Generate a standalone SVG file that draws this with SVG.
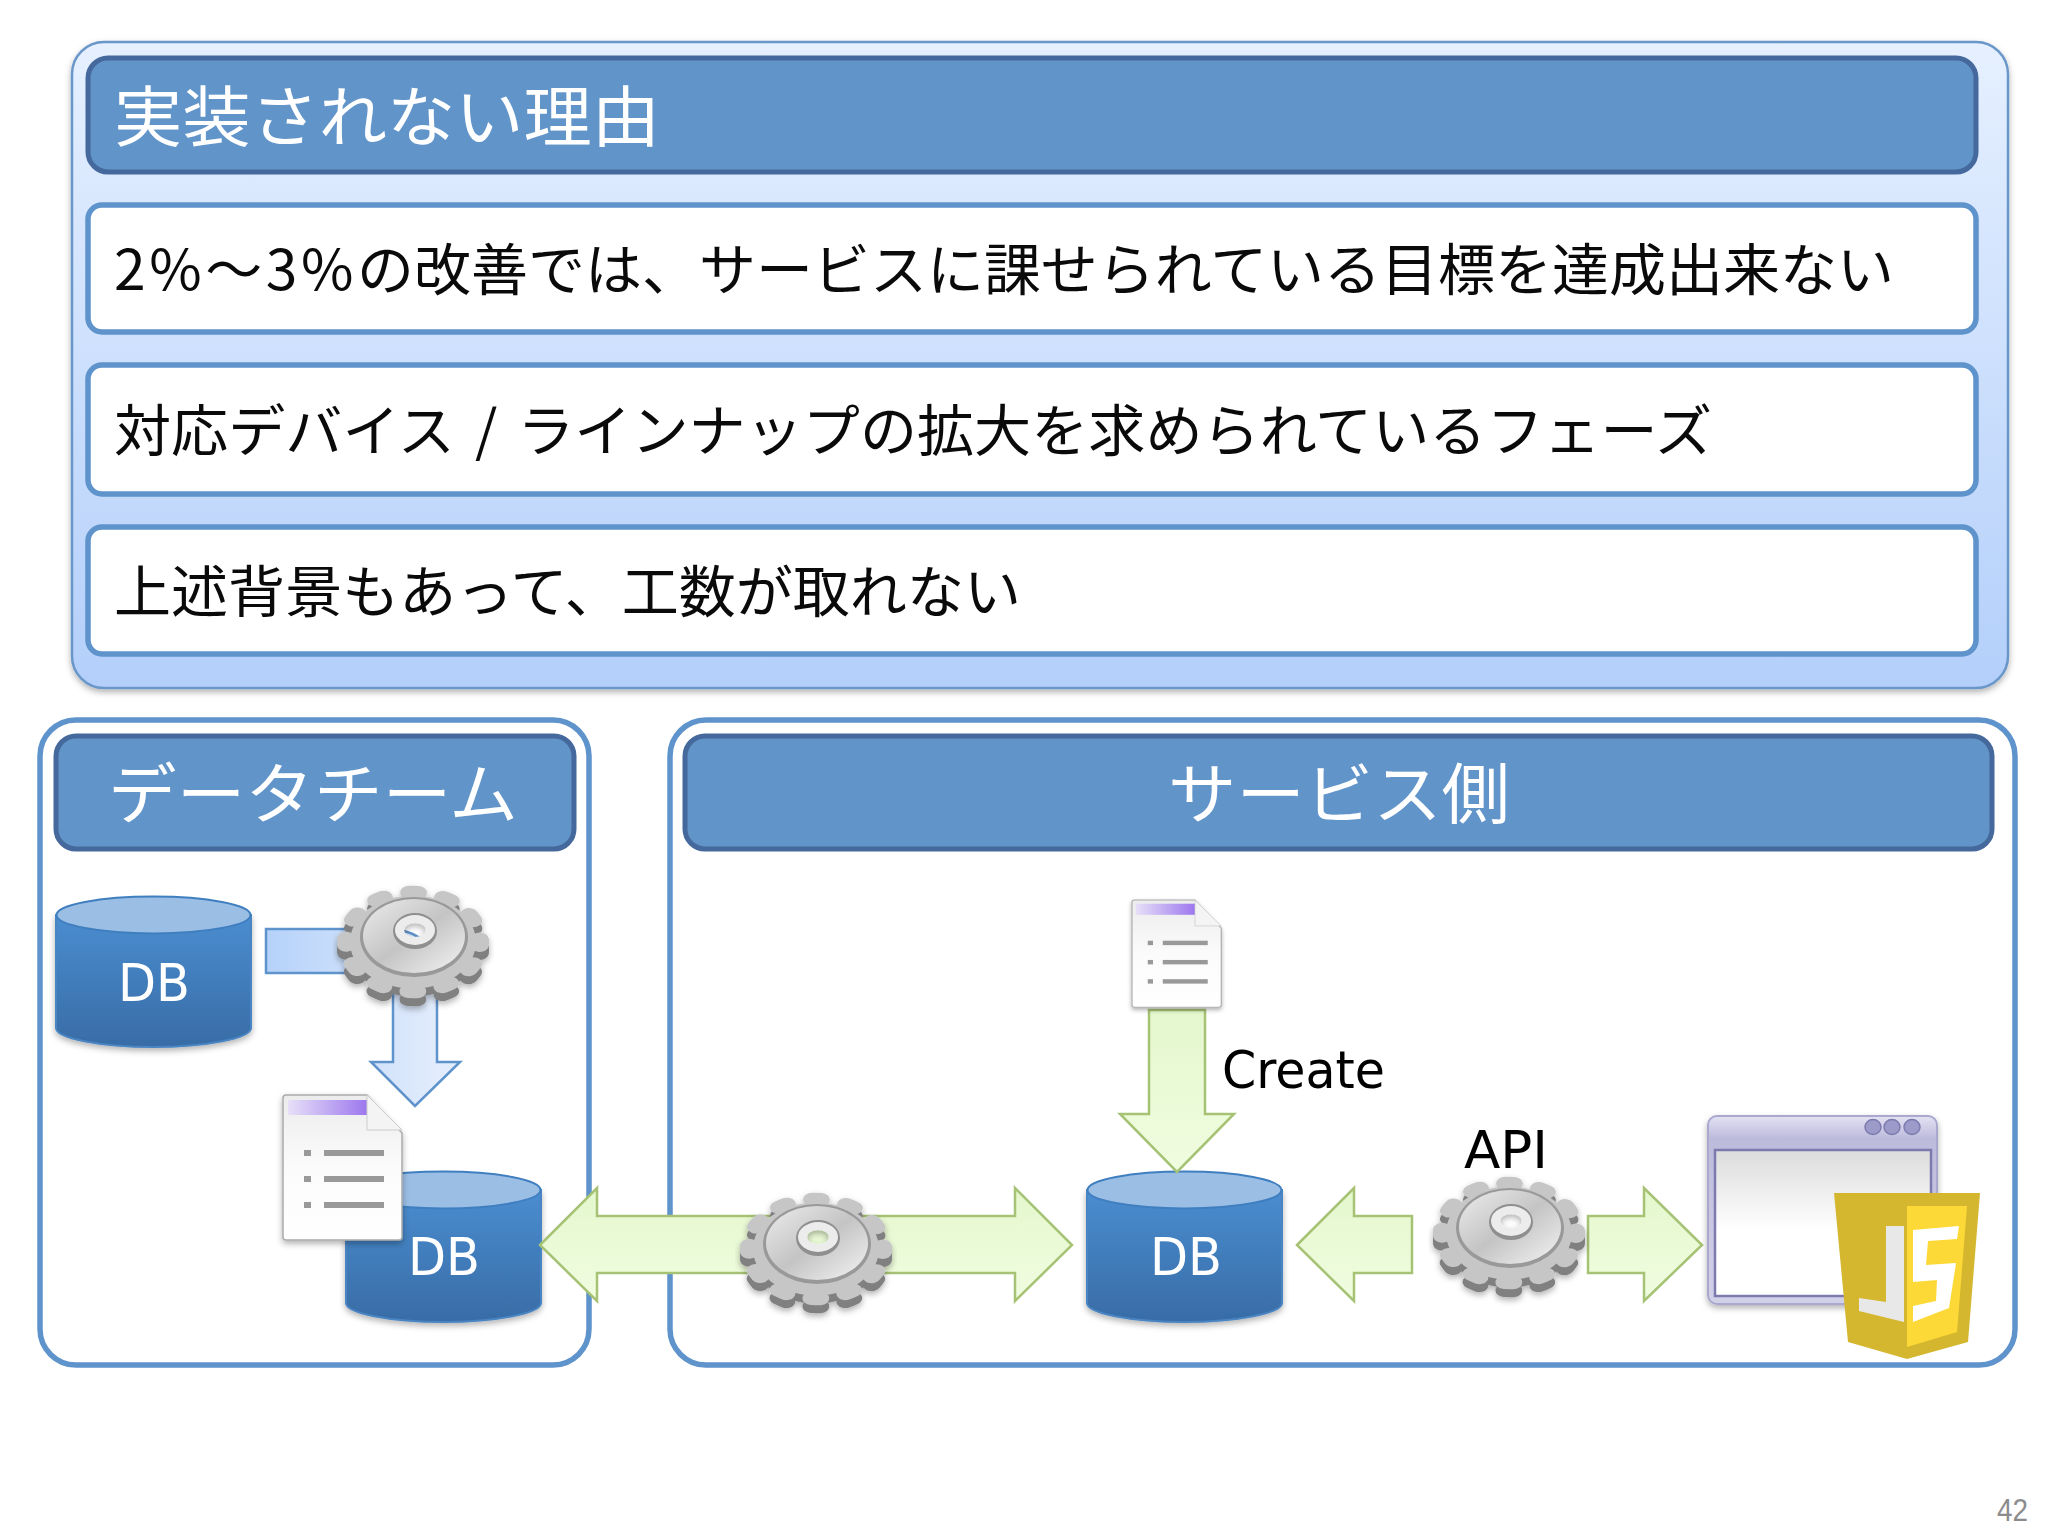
<svg xmlns="http://www.w3.org/2000/svg" width="2048" height="1536" viewBox="0 0 2048 1536">
<style>
.jp{font-family:"Noto Sans CJK JP","Noto Sans",sans-serif}
.row{font-size:56px;fill:#0a0a0a}
.head{font-size:66px;fill:#fff;font-weight:400}
.lat{font-family:"DejaVu Sans","Liberation Sans",sans-serif;font-size:52px}
.db{fill:#fff;text-anchor:middle}
.hbox{fill:#6194c9;stroke:#45699c;stroke-width:5}
.rbox{fill:#fff;stroke:#5f93cb;stroke-width:5.500}
.frame{fill:#fff;stroke:#5f93cb;stroke-width:5.500}
.g{fill:url(#greenG);stroke:#a6c274;stroke-width:2.500;stroke-linejoin:miter}
</style>
<defs>
<linearGradient id="panelG" x1="0" y1="0" x2="0" y2="1"><stop offset="0" stop-color="#e6f0ff"/><stop offset="1" stop-color="#b3cffa"/></linearGradient>
<linearGradient id="cyl" x1="0" y1="0" x2="0" y2="1"><stop offset="0" stop-color="#4a8dd0"/><stop offset="1" stop-color="#386ca6"/></linearGradient>
<linearGradient id="greenG" x1="0" y1="0" x2="0" y2="1"><stop offset="0" stop-color="#e4f7cd"/><stop offset="1" stop-color="#f0fde0"/></linearGradient>
<linearGradient id="blueH" gradientUnits="userSpaceOnUse" x1="266" y1="0" x2="440" y2="0"><stop offset="0" stop-color="#b6d2fa"/><stop offset="1" stop-color="#e2ecfc"/></linearGradient>
<linearGradient id="docP" x1="0" y1="0" x2="1" y2="0"><stop offset="0" stop-color="#e6e0f8"/><stop offset="1" stop-color="#9d77ee"/></linearGradient>
<linearGradient id="docB" x1="0" y1="0" x2="0" y2="1"><stop offset="0" stop-color="#ececec"/><stop offset=".5" stop-color="#fbfbfb"/><stop offset="1" stop-color="#ffffff"/></linearGradient>
<linearGradient id="disc" x1="0" y1="0" x2="1" y2="1"><stop offset="0" stop-color="#ececec"/><stop offset=".5" stop-color="#c4c4c4"/><stop offset="1" stop-color="#f4f4f4"/></linearGradient>
<linearGradient id="winF" x1="0" y1="0" x2="0" y2="1"><stop offset="0" stop-color="#e4e2f3"/><stop offset=".12" stop-color="#bdbbdc"/><stop offset="1" stop-color="#d3d1e8"/></linearGradient>
<linearGradient id="winI" x1="0" y1="0" x2="0" y2="1"><stop offset="0" stop-color="#dcdcdc"/><stop offset=".55" stop-color="#fff"/></linearGradient>
<filter id="sh" x="-10%" y="-10%" width="120%" height="125%"><feDropShadow dx="0" dy="3" stdDeviation="3" flood-color="#000" flood-opacity=".3"/></filter>
<mask id="gearHole" maskUnits="userSpaceOnUse" x="-90" y="-80" width="180" height="160"><rect x="-90" y="-80" width="180" height="160" fill="#fff"/><ellipse cx="2" cy="-13" rx="11" ry="7" fill="#000"/></mask>
<g id="gear" mask="url(#gearHole)">
<g transform="translate(0,7) scale(1,.74)"><circle r="63" fill="#808080"/><circle r="67" fill="none" stroke="#808080" stroke-width="18" stroke-linecap="round" stroke-dasharray="9 26.080" stroke-dashoffset="4.500"/></g>
<g transform="translate(0,-1) scale(1,.74)"><circle r="63" fill="#c6c6c6"/><circle r="67" fill="none" stroke="#c6c6c6" stroke-width="18" stroke-linecap="round" stroke-dasharray="9 26.080" stroke-dashoffset="4.500"/></g>
<ellipse cx="1" cy="-6" rx="54" ry="40" fill="#999"/>
<ellipse cx="1" cy="-7" rx="51" ry="37" fill="url(#disc)"/>
<ellipse cx="2" cy="-12" rx="22" ry="18" fill="#8f8f8f"/>
<ellipse cx="2" cy="-13" rx="20" ry="15" fill="#ececec"/>
</g>
<g id="doc">
<path d="M283 1098q0-3 3-3H367L402 1133V1237q0 3-3 3H286q-3 0-3-3Z" fill="url(#docB)" stroke="#aaa" stroke-width="1.500" filter="url(#sh)"/>
<rect x="288" y="1100" width="79" height="15" fill="url(#docP)"/>
<path d="M367 1095V1130H402Z" fill="#f4f4f4" stroke="#ccc"/>
<g fill="#999"><rect x="304" y="1150" width="7" height="6"/><rect x="324" y="1150" width="60" height="6"/><rect x="304" y="1176" width="7" height="6"/><rect x="324" y="1176" width="60" height="6"/><rect x="304" y="1202" width="7" height="6"/><rect x="324" y="1202" width="60" height="6"/></g>
</g>
<g id="cylinder">
<path d="M0 19V132C0 142 43 151 97 151S195 142 195 132V19Z" fill="url(#cyl)" stroke="#4a85c2" stroke-width="2" filter="url(#sh)"/>
<ellipse cx="97.500" cy="19" rx="97" ry="18.500" fill="#9bbee5" stroke="#3f7fc0" stroke-width="2"/>
</g>
</defs>
<rect width="2048" height="1536" fill="#fff"/>

<g id="reasons">
<rect x="72" y="42" width="1936" height="646" rx="32" fill="url(#panelG)" stroke="#6b97ca" stroke-width="2.500" filter="url(#sh)"/>
<g id="reason-header"><rect class="hbox" x="88" y="58" width="1888" height="114" rx="20"/><text class="jp head" x="114" y="141" textLength="546" lengthAdjust="spacingAndGlyphs">実装されない理由</text></g>
<g id="reason-1"><rect class="rbox" x="88" y="205" width="1888" height="127" rx="14"/><text class="jp row" x="114" y="290" textLength="1780" lengthAdjust="spacingAndGlyphs"><tspan letter-spacing="3.500">2%～3%</tspan>の改善では、サービスに課せられている目標を達成出来ない</text></g>
<g id="reason-2"><rect class="rbox" x="88" y="365" width="1888" height="129" rx="14"/><text class="jp row" x="114" y="451" textLength="1598" lengthAdjust="spacingAndGlyphs" word-spacing="7">対応デバイス / ラインナップの拡大を求められているフェーズ</text></g>
<g id="reason-3"><rect class="rbox" x="88" y="527" width="1888" height="127" rx="14"/><text class="jp row" x="114" y="612" textLength="907" lengthAdjust="spacingAndGlyphs">上述背景もあって、工数が取れない</text></g>
</g>

<g id="data-team">
<rect class="frame" x="40" y="720" width="549" height="645" rx="36"/>
<rect class="hbox" x="56" y="736" width="518" height="113" rx="20"/>
<text class="jp head" x="313" y="818" text-anchor="middle" textLength="410" lengthAdjust="spacingAndGlyphs">データチーム</text>
</g>
<g id="service-side">
<rect class="frame" x="670" y="720" width="1345" height="645" rx="36"/>
<rect class="hbox" x="685" y="736" width="1307" height="113" rx="20"/>
<text class="jp head" x="1339" y="818" text-anchor="middle" textLength="342" lengthAdjust="spacingAndGlyphs">サービス側</text>
</g>

<g id="db-source"><use href="#cylinder" transform="translate(56,896)"/><text class="lat db" x="154" y="1001" textLength="72" lengthAdjust="spacingAndGlyphs">DB</text></g>
<g id="db-team"><use href="#cylinder" transform="translate(346,1171)"/><text class="lat db" x="444" y="1275" textLength="72" lengthAdjust="spacingAndGlyphs">DB</text></g>
<g id="db-service"><use href="#cylinder" transform="translate(1087,1171)"/><text class="lat db" x="1186" y="1275" textLength="72" lengthAdjust="spacingAndGlyphs">DB</text></g>

<g id="connectors">
<path d="M266 929H385Q437 929 437 980V1062H460L415 1106L371 1062H393V995Q393 973 370 973H266Z" fill="url(#blueH)" stroke="#5f93cb" stroke-width="2.500"/>
<path class="g" d="M540 1245L597 1188V1216H1015V1188L1072 1245L1015 1301V1273H597V1301Z"/>
<path class="g" d="M1149 1010H1205V1114H1234L1177 1172L1120 1114H1149Z"/>
<path class="g" d="M1297 1245L1354 1188V1216H1412V1273H1354V1301Z"/>
<path class="g" d="M1588 1216H1644V1188L1702 1245L1644 1301V1273H1588Z"/>
</g>

<g id="gear-1" filter="url(#sh)"><use href="#gear" transform="translate(413,943)"/></g>
<g id="gear-2" filter="url(#sh)"><use href="#gear" transform="translate(816,1250)"/></g>
<g id="gear-3" filter="url(#sh)"><use href="#gear" transform="translate(1509,1234)"/></g>

<g id="doc-team"><use href="#doc"/></g>
<g id="doc-service"><use href="#doc" transform="translate(1132,900) scale(.75,.74) translate(-283,-1095)"/></g>

<g id="browser">
<rect x="1708" y="1116" width="229" height="188" rx="9" fill="url(#winF)" stroke="#aaa8cf" stroke-width="2" filter="url(#sh)"/>
<rect x="1715" y="1150" width="216" height="146" fill="url(#winI)" stroke="#7d7aae" stroke-width="2.500"/>
<g fill="#9c9ac9" stroke="#7d7aae" stroke-width="1.500"><ellipse cx="1873" cy="1127" rx="8" ry="7.500"/><ellipse cx="1892" cy="1127" rx="8" ry="7.500"/><ellipse cx="1912" cy="1127" rx="8" ry="7.500"/></g>
</g>
<g id="js-shield">
<path d="M1834 1193H1980L1968 1342L1907 1359L1848 1342Z" fill="#d4b72e"/>
<path d="M1907 1206H1967L1957 1332L1907 1347Z" fill="#fdd938"/>
<path d="M1886 1226H1904V1322L1859 1311V1298L1886 1302Z" fill="#e8e8e8"/>
<path d="M1913 1230L1959 1226L1957 1239L1928 1241L1926 1265L1956 1263L1949 1308L1913 1322V1306L1936 1301L1937 1280L1913 1282Z" fill="#fff"/>
</g>

<text id="label-create" class="lat" x="1222" y="1088" textLength="163" lengthAdjust="spacingAndGlyphs">Create</text>
<text id="label-api" class="lat" x="1464" y="1168" textLength="84" lengthAdjust="spacingAndGlyphs">API</text>
<text id="page-number" x="2028" y="1521" text-anchor="end" font-family="Liberation Sans, sans-serif" font-size="32" fill="#8c8c8c" textLength="31" lengthAdjust="spacingAndGlyphs">42</text>
</svg>
